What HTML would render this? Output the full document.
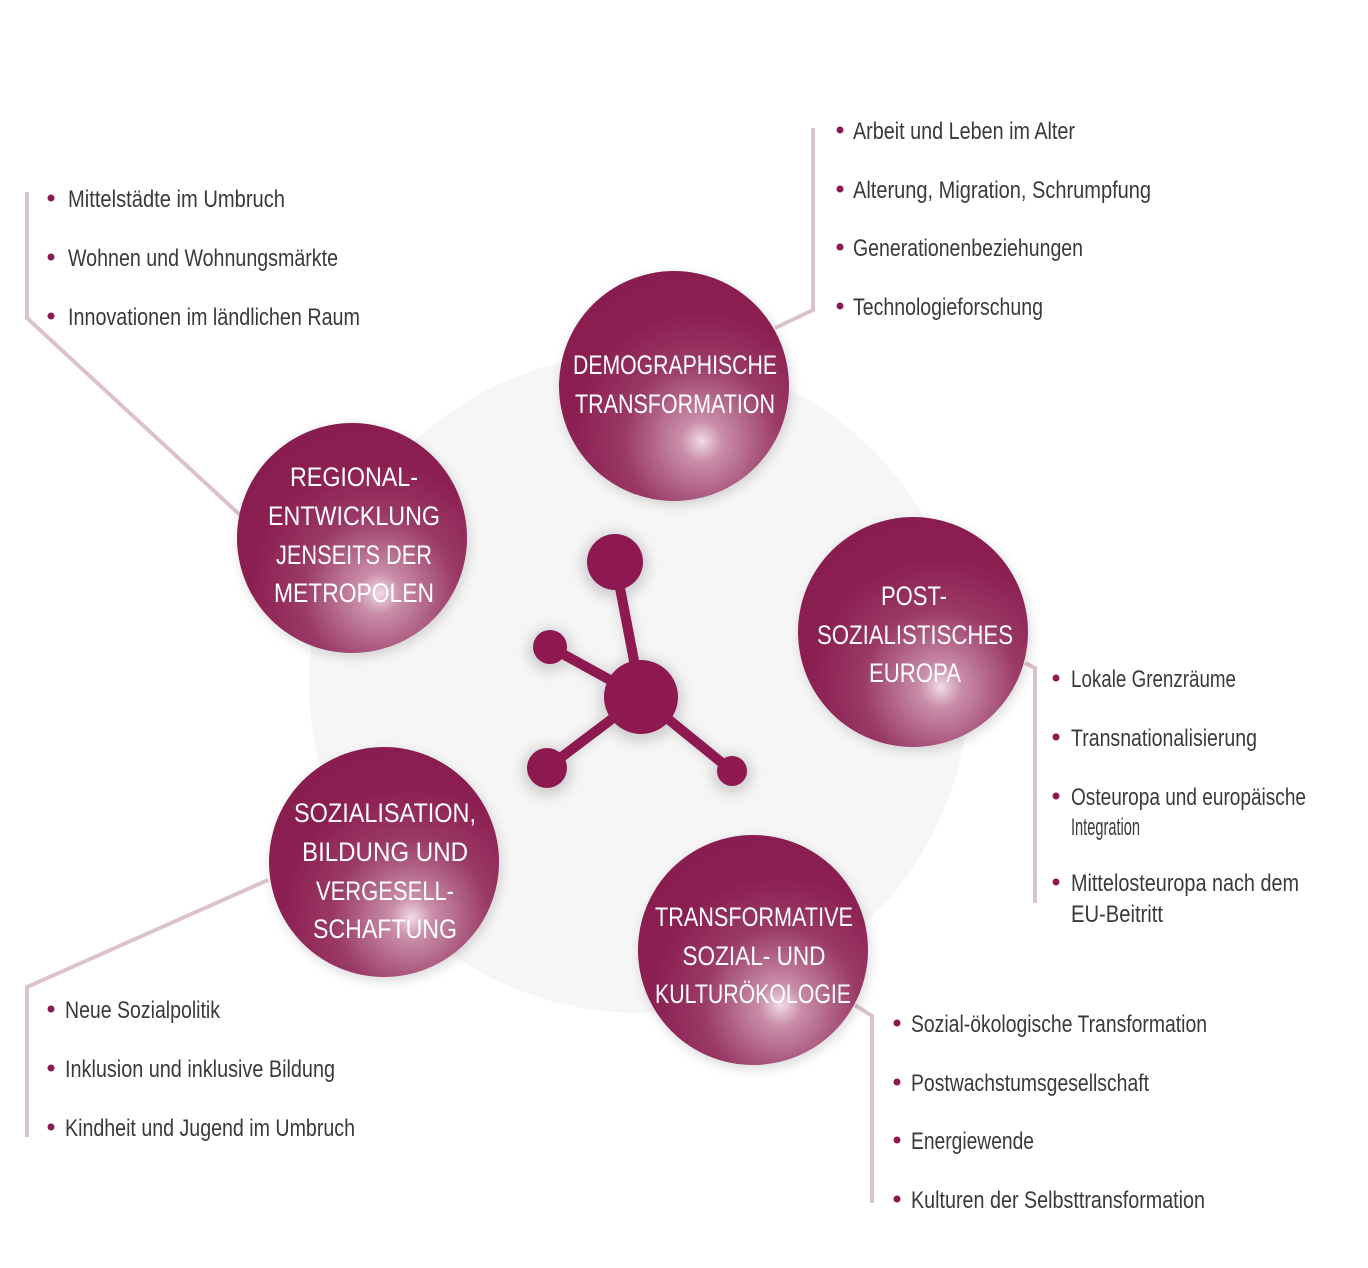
<!DOCTYPE html>
<html><head><meta charset="utf-8"><style>
html,body{margin:0;padding:0;background:#fff;}
svg{display:block;}
.t{font-family:"Liberation Sans Narrow","Liberation Sans",sans-serif;font-size:24px;fill:#3a3a3a;}
.c{font-family:"Liberation Sans Narrow","Liberation Sans",sans-serif;font-size:27px;fill:#fff;text-anchor:middle;}
</style></head><body>
<svg width="1368" height="1268" viewBox="0 0 1368 1268" xmlns="http://www.w3.org/2000/svg">
<defs>
<radialGradient id="g" cx="0.62" cy="0.74" r="0.75" fx="0.62" fy="0.74">
<stop offset="0" stop-color="#f1dbe6"/>
<stop offset="0.12" stop-color="#c98ea9"/>
<stop offset="0.45" stop-color="#9a3a66"/>
<stop offset="0.75" stop-color="#8c1f52"/>
<stop offset="1" stop-color="#8a1d50"/>
</radialGradient>
<filter id="sh" x="-30%" y="-30%" width="160%" height="160%"><feGaussianBlur stdDeviation="6"/></filter>
</defs>
<circle cx="639" cy="683" r="330" fill="#f6f6f6"/>
<g stroke="#dcc2ce" stroke-width="4" fill="none">
<polyline points="27,192 27,318 240,515"/>
<polyline points="775,328 813,310 813,128"/>
<polyline points="1025,663 1035,668 1035,903"/>
<polyline points="268,880 27,987 27,1137"/>
<polyline points="855,1005 872,1016 872,1203"/>
</g>
<!-- molecule -->
<g filter="url(#sh)" opacity="0.35" fill="#888" stroke="#888" stroke-width="10">
<line x1="615" y1="562" x2="641" y2="697"/><line x1="550" y1="647" x2="641" y2="697"/><line x1="547" y1="768" x2="641" y2="697"/><line x1="732" y1="771" x2="641" y2="697"/>
<circle cx="615" cy="565" r="28"/><circle cx="641" cy="700" r="37"/><circle cx="550" cy="650" r="17"/><circle cx="547" cy="771" r="20"/><circle cx="732" cy="774" r="15"/>
</g>
<g fill="#8e1951" stroke="#8e1951" stroke-width="10">
<line x1="615" y1="562" x2="641" y2="697"/><line x1="550" y1="647" x2="641" y2="697"/><line x1="547" y1="768" x2="641" y2="697"/><line x1="732" y1="771" x2="641" y2="697"/>
</g>
<g fill="#8e1951">
<circle cx="615" cy="562" r="28"/><circle cx="641" cy="697" r="37"/><circle cx="550" cy="647" r="17"/><circle cx="547" cy="768" r="20"/><circle cx="732" cy="771" r="15"/>
</g>
<!-- big circles -->
<g fill="#000" opacity="0.15" filter="url(#sh)">
<circle cx="676" cy="390" r="115"/><circle cx="354" cy="542" r="115"/><circle cx="915" cy="636" r="115"/><circle cx="386" cy="866" r="115"/><circle cx="755" cy="954" r="115"/>
</g>
<g fill="url(#g)">
<circle cx="674" cy="386" r="115"/><circle cx="352" cy="538" r="115"/><circle cx="913" cy="632" r="115"/><circle cx="384" cy="862" r="115"/><circle cx="753" cy="950" r="115"/>
</g>
<g class="c" lengthAdjust="spacingAndGlyphs">
<text class="c" x="675" y="374" textLength="204" lengthAdjust="spacingAndGlyphs">DEMOGRAPHISCHE</text>
<text class="c" x="675" y="413" textLength="200" lengthAdjust="spacingAndGlyphs">TRANSFORMATION</text>
<text class="c" x="354" y="486" textLength="128" lengthAdjust="spacingAndGlyphs">REGIONAL-</text>
<text class="c" x="354" y="525" textLength="172" lengthAdjust="spacingAndGlyphs">ENTWICKLUNG</text>
<text class="c" x="354" y="564" textLength="156" lengthAdjust="spacingAndGlyphs">JENSEITS DER</text>
<text class="c" x="354" y="602" textLength="160" lengthAdjust="spacingAndGlyphs">METROPOLEN</text>
<text class="c" x="914" y="605" textLength="66" lengthAdjust="spacingAndGlyphs">POST-</text>
<text class="c" x="915" y="644" textLength="196" lengthAdjust="spacingAndGlyphs">SOZIALISTISCHES</text>
<text class="c" x="915" y="682" textLength="92" lengthAdjust="spacingAndGlyphs">EUROPA</text>
<text class="c" x="385" y="822" textLength="182" lengthAdjust="spacingAndGlyphs">SOZIALISATION,</text>
<text class="c" x="385" y="861" textLength="166" lengthAdjust="spacingAndGlyphs">BILDUNG UND</text>
<text class="c" x="385" y="900" textLength="138" lengthAdjust="spacingAndGlyphs">VERGESELL-</text>
<text class="c" x="385" y="938" textLength="144" lengthAdjust="spacingAndGlyphs">SCHAFTUNG</text>
<text class="c" x="754" y="926" textLength="198" lengthAdjust="spacingAndGlyphs">TRANSFORMATIVE</text>
<text class="c" x="754" y="965" textLength="143" lengthAdjust="spacingAndGlyphs">SOZIAL- UND</text>
<text class="c" x="753" y="1003" textLength="196" lengthAdjust="spacingAndGlyphs">KULTURÖKOLOGIE</text>
</g>
<!-- bullets -->
<g fill="#8e1951">
<circle cx="51" cy="198" r="3.5"/><circle cx="51" cy="257" r="3.5"/><circle cx="51" cy="316" r="3.5"/>
<circle cx="840" cy="130" r="3.5"/><circle cx="840" cy="189" r="3.5"/><circle cx="840" cy="247" r="3.5"/><circle cx="840" cy="306" r="3.5"/>
<circle cx="1056" cy="678" r="3.5"/><circle cx="1056" cy="737" r="3.5"/><circle cx="1056" cy="796" r="3.5"/><circle cx="1056" cy="882" r="3.5"/>
<circle cx="51" cy="1009" r="3.5"/><circle cx="51" cy="1068" r="3.5"/><circle cx="51" cy="1127" r="3.5"/>
<circle cx="897" cy="1023" r="3.5"/><circle cx="897" cy="1082" r="3.5"/><circle cx="897" cy="1140" r="3.5"/><circle cx="897" cy="1199" r="3.5"/>
</g>
<g>
<text class="t" x="68" y="207" textLength="217" lengthAdjust="spacingAndGlyphs">Mittelstädte im Umbruch</text>
<text class="t" x="68" y="266" textLength="270" lengthAdjust="spacingAndGlyphs">Wohnen und Wohnungsmärkte</text>
<text class="t" x="68" y="325" textLength="292" lengthAdjust="spacingAndGlyphs">Innovationen im ländlichen Raum</text>
<text class="t" x="853" y="139" textLength="222" lengthAdjust="spacingAndGlyphs">Arbeit und Leben im Alter</text>
<text class="t" x="853" y="198" textLength="298" lengthAdjust="spacingAndGlyphs">Alterung, Migration, Schrumpfung</text>
<text class="t" x="853" y="256" textLength="230" lengthAdjust="spacingAndGlyphs">Generationenbeziehungen</text>
<text class="t" x="853" y="315" textLength="190" lengthAdjust="spacingAndGlyphs">Technologieforschung</text>
<text class="t" x="1071" y="687" textLength="165" lengthAdjust="spacingAndGlyphs">Lokale Grenzräume</text>
<text class="t" x="1071" y="746" textLength="186" lengthAdjust="spacingAndGlyphs">Transnationalisierung</text>
<text class="t" x="1071" y="805" textLength="235" lengthAdjust="spacingAndGlyphs">Osteuropa und europäische</text>
<text class="t" x="1071" y="835" textLength="69" lengthAdjust="spacingAndGlyphs">Integration</text>
<text class="t" x="1071" y="891" textLength="228" lengthAdjust="spacingAndGlyphs">Mittelosteuropa nach dem</text>
<text class="t" x="1071" y="922" textLength="92" lengthAdjust="spacingAndGlyphs">EU-Beitritt</text>
<text class="t" x="65" y="1018" textLength="155" lengthAdjust="spacingAndGlyphs">Neue Sozialpolitik</text>
<text class="t" x="65" y="1077" textLength="270" lengthAdjust="spacingAndGlyphs">Inklusion und inklusive Bildung</text>
<text class="t" x="65" y="1136" textLength="290" lengthAdjust="spacingAndGlyphs">Kindheit und Jugend im Umbruch</text>
<text class="t" x="911" y="1032" textLength="296" lengthAdjust="spacingAndGlyphs">Sozial-ökologische Transformation</text>
<text class="t" x="911" y="1091" textLength="238" lengthAdjust="spacingAndGlyphs">Postwachstumsgesellschaft</text>
<text class="t" x="911" y="1149" textLength="123" lengthAdjust="spacingAndGlyphs">Energiewende</text>
<text class="t" x="911" y="1208" textLength="294" lengthAdjust="spacingAndGlyphs">Kulturen der Selbsttransformation</text>
</g>
</svg>
</body></html>
